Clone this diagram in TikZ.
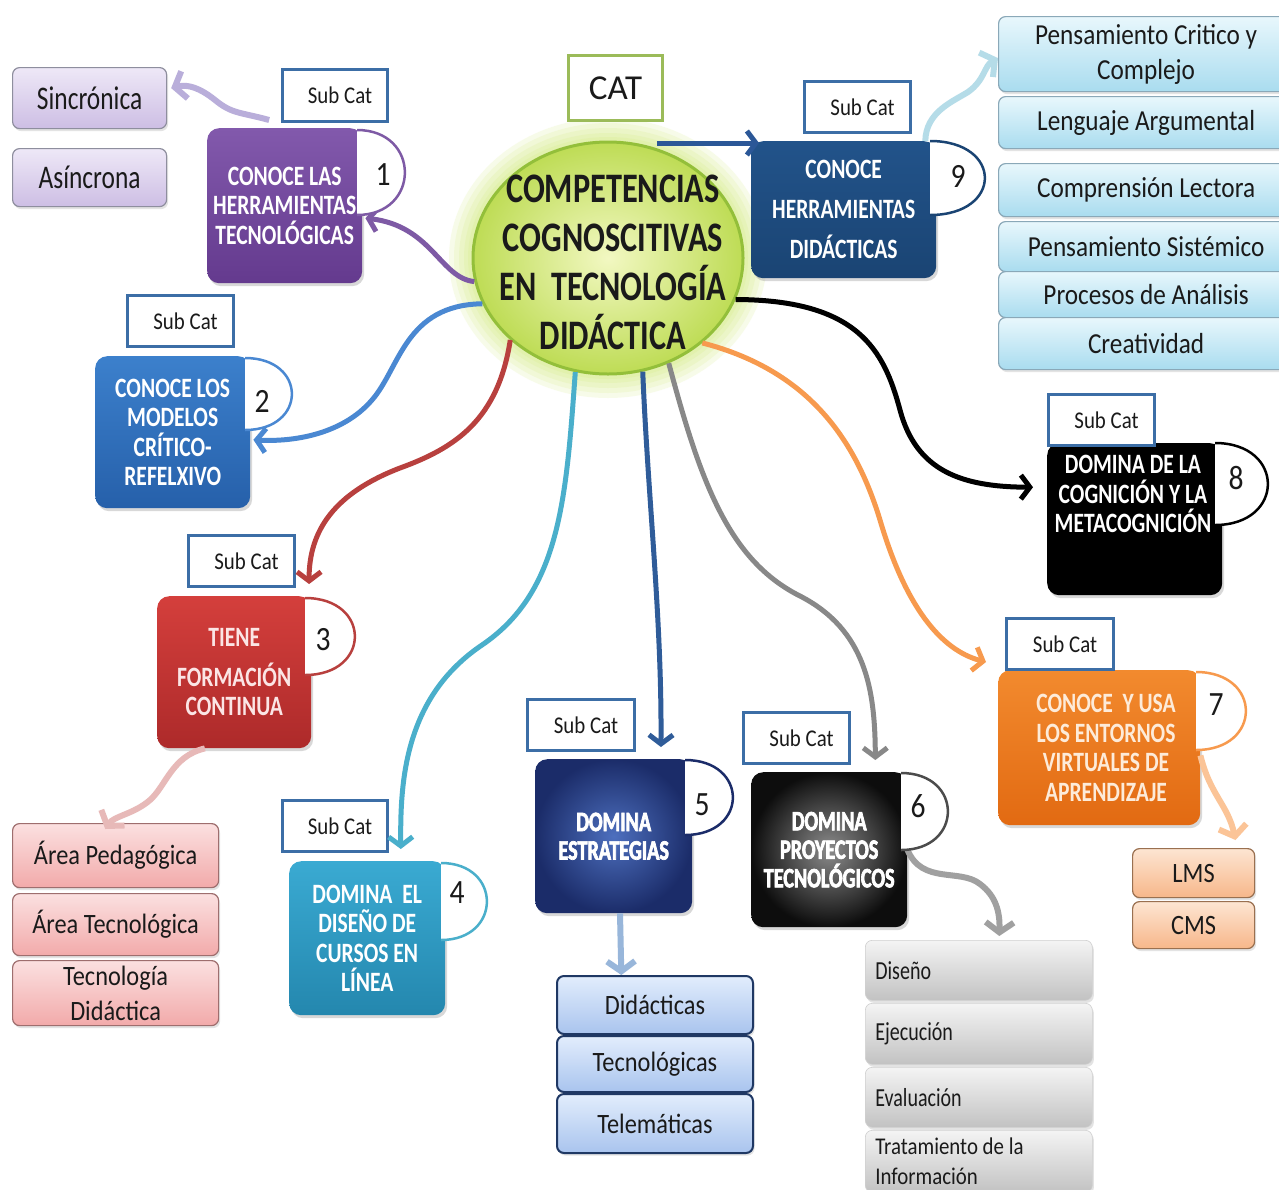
\documentclass[tikz,border=0pt]{standalone}
\usepackage{fontspec}
\setmainfont{Carlito}
\newfontfamily\cnA{Carlito}[FakeStretch=0.77]
\newfontfamily\cnB{Carlito}[FakeStretch=0.87]
\newfontfamily\cnH{Carlito}[FakeStretch=0.72,FakeBold=2.5,BoldFeatures={FakeBold=2.5}]
\usetikzlibrary{shapes.geometric,calc,arrows.meta,shadows}

% category boxes
\definecolor{purpTop}{HTML}{8259AC}\definecolor{purpBot}{HTML}{643A8E}
\definecolor{blueTop}{HTML}{3C80CC}\definecolor{blueBot}{HTML}{2660AA}
\definecolor{redTop}{HTML}{D43F3C}\definecolor{redBot}{HTML}{AD2A2A}
\definecolor{tealTop}{HTML}{3AAAD2}\definecolor{tealBot}{HTML}{2487AE}
\definecolor{navyIn}{HTML}{4D6FBE}\definecolor{navyOut}{HTML}{1B2C69}
\definecolor{greyIn}{HTML}{8C8C8C}\definecolor{greyOut}{HTML}{0D0D0D}
\definecolor{orTop}{HTML}{F28A2E}\definecolor{orBot}{HTML}{E26A12}
\definecolor{dnTop}{HTML}{22538A}\definecolor{dnBot}{HTML}{1A4473}
\definecolor{orText}{HTML}{FDEBD9}\definecolor{redText}{HTML}{FBE5E5}
% frames and text
\definecolor{subblue}{HTML}{3C6EA6}\definecolor{catgreen}{HTML}{9BBB59}
\definecolor{txt}{HTML}{1A1A1A}
% connectors
\definecolor{arPurple}{HTML}{7E5AA5}\definecolor{arLav}{HTML}{B9AEDA}
\definecolor{arBlue}{HTML}{4A88D2}\definecolor{arRed}{HTML}{B8403E}
\definecolor{arTeal}{HTML}{4AAFCB}\definecolor{arNavy}{HTML}{2F5C99}
\definecolor{arGrey}{HTML}{888888}\definecolor{arOrange}{HTML}{F79A4E}
\definecolor{arNavyB}{HTML}{2B5797}\definecolor{arCyan}{HTML}{B5DCE8}
\definecolor{arPink}{HTML}{E7B9B8}\definecolor{arLBlue}{HTML}{98B6DA}
\definecolor{arGreyB}{HTML}{A0A0A0}\definecolor{arPeach}{HTML}{FBC497}
% list items
\definecolor{lavTop}{HTML}{EEE8F7}\definecolor{lavBot}{HTML}{CDBEE4}\definecolor{lavLine}{HTML}{8E8E9E}
\definecolor{pkTop}{HTML}{FBE0E0}\definecolor{pkBot}{HTML}{F2AAAA}\definecolor{pkLine}{HTML}{9E6E6E}
\definecolor{lbTop}{HTML}{E2EDFC}\definecolor{lbBot}{HTML}{A9C4EE}\definecolor{lbLine}{HTML}{1F3864}
\definecolor{gyTop}{HTML}{F4F4F4}\definecolor{gyBot}{HTML}{C2C2C2}\definecolor{gyLine}{HTML}{D0D0D0}
\definecolor{cyTop}{HTML}{E8F7FC}\definecolor{cyBot}{HTML}{A9DCEF}\definecolor{cyLine}{HTML}{8AA8B8}
\definecolor{peTop}{HTML}{FDE5D2}\definecolor{peBot}{HTML}{F7B78A}\definecolor{peLine}{HTML}{9A7050}
% central ellipse
\definecolor{coreIn}{HTML}{F2F8C2}\definecolor{coreOut}{HTML}{BEDC55}
\definecolor{coreRim}{HTML}{93BF3A}\definecolor{glowc}{HTML}{CDE86A}

% white D-shaped number tab on the right of a box
\newcommand\numtab[5]{%
  \fill[white] (#1,#2) .. controls ({#1+1.33*(#3-#1)},#2) and ({#1+1.33*(#3-#1)},#4) .. (#1,#4) -- cycle;
  \draw[#5, line width=2.5pt] (#1,#2) .. controls ({#1+1.33*(#3-#1)},#2) and ({#1+1.33*(#3-#1)},#4) .. (#1,#4);}

\begin{document}
\begin{tikzpicture}[x=1pt,y=-1pt,
  every node/.style={inner sep=0pt},
  catbox/.style={rounded corners=12pt, anchor=north west, align=center, text=white,
    font=\cnA\bfseries\fontsize{28}{29.5}\selectfont,
    drop shadow={shadow xshift=2pt,shadow yshift=-3pt,opacity=0.3}},
  cattext/.style={align=center, text=white, font=\cnA\bfseries\fontsize{28}{29.5}\selectfont},
  heavy/.style={font=\cnH\bfseries\fontsize{28}{28.5}\selectfont},
  subcat/.style={draw=subblue, line width=3pt, fill=white, anchor=north west,
    font=\cnB\fontsize{24}{26}\selectfont, text=txt},
  item/.style={rounded corners=7pt, anchor=north west, align=center, line width=1.2pt,
    font=\cnB\fontsize{28}{35}\selectfont, text=txt,
    drop shadow={shadow xshift=1.5pt,shadow yshift=-2.5pt,opacity=0.22}},
  lav/.style={top color=lavTop, bottom color=lavBot, draw=lavLine},
  pk/.style={top color=pkTop, bottom color=pkBot, draw=pkLine},
  lb/.style={top color=lbTop, bottom color=lbBot, draw=lbLine, line width=2pt},
  gy/.style={top color=gyTop, bottom color=gyBot, draw=gyLine, line width=0.6pt,
    align=left, text width=207pt, inner xsep=10pt, font=\cnA\fontsize{26}{30}\selectfont},
  cy/.style={top color=cyTop, bottom color=cyBot, draw=cyLine},
  pe/.style={top color=peTop, bottom color=peBot, draw=peLine},
  numtxt/.style={font=\cnB\fontsize{34}{34}\selectfont, text=txt},
  con/.style={line width=5pt, -{Straight Barb[length=9pt,width=24pt]}},
  soft/.style={line width=6pt, -{Straight Barb[length=10pt,width=28pt]}},
]
\fill[white] (0,0) rectangle (1279,1189);
\useasboundingbox (0,0) rectangle (1279,1189);

% ---- central concept with its halo
\foreach \g in {24,19,14,9,5}
  \fill[glowc, opacity=0.14] (608,258) ellipse [x radius={(135+\g)*1pt}, y radius={(116+\g)*1pt}];
\node[ellipse, minimum width=270pt, minimum height=232pt, inner color=coreIn, outer color=coreOut,
  draw=coreRim, line width=3pt] (core) at (608,258) {};
\node[align=center, text=txt, font=\cnA\bfseries\fontsize{42}{49}\selectfont] (coretext) at (613,262)
  {COMPETENCIAS\\COGNOSCITIVAS\\EN\ \ TECNOLOGÍA\\DIDÁCTICA};
\node[draw=catgreen, line width=3pt, fill=white, anchor=north west, minimum width=94pt, minimum height=65pt,
  font=\fontsize{35}{36}\selectfont, text=txt] (cat) at (567,54) {CAT};

% ---- category boxes
\node[catbox, top color=purpTop, bottom color=purpBot, minimum width=155pt, minimum height=155pt]
  (b1) at (207,128) {CONOCE LAS\\HERRAMIENTAS\\TECNOLÓGICAS};
\node[catbox, top color=blueTop, bottom color=blueBot, minimum width=155pt, minimum height=152pt]
  (b2) at (95,356) {CONOCE LOS\\MODELOS\\CRÍTICO-\\REFELXIVO};
\node[catbox, top color=redTop, bottom color=redBot, text=redText, minimum width=154pt, minimum height=152pt]
  (b3) at (157,596) {TIENE\\[10pt]FORMACIÓN\\CONTINUA};
\node[catbox, top color=tealTop, bottom color=tealBot, minimum width=156pt, minimum height=154pt]
  (b4) at (289,861) {DOMINA\ \ EL\\DISEÑO DE\\CURSOS EN\\LÍNEA};
\node[catbox, heavy, shading=radial, inner color=navyIn, outer color=navyOut, minimum width=157pt, minimum height=154pt]
  (b5) at (535,759) {DOMINA\\ESTRATEGIAS};
\node[catbox, heavy, shading=radial, inner color=greyIn, outer color=greyOut, minimum width=156pt, minimum height=155pt]
  (b6) at (751,772) {DOMINA\\PROYECTOS\\TECNOLÓGICOS};
\node[catbox, top color=orTop, bottom color=orBot, minimum width=202pt, minimum height=155pt] (b7) at (998,670) {};
\node[cattext, text=orText] (t7) at (1106,748) {CONOCE\ \ Y USA\\LOS ENTORNOS\\VIRTUALES DE\\APRENDIZAJE};
\node[catbox, fill=black, minimum width=175pt, minimum height=152pt] (b8) at (1047,443) {};
\node[cattext] (t8) at (1133,494) {DOMINA DE LA\\COGNICIÓN Y LA\\METACOGNICIÓN};
\node[catbox, top color=dnTop, bottom color=dnBot, minimum width=185pt, minimum height=137pt,
  font=\cnA\bfseries\fontsize{28}{40}\selectfont] (b9) at (751,141) {CONOCE\\HERRAMIENTAS\\DIDÁCTICAS};

% ---- sub category frames
\node[subcat, minimum width=105pt, minimum height=52pt] (s1) at (281,68)  {\hspace*{10pt}Sub Cat};
\node[subcat, minimum width=106pt, minimum height=51pt] (s2) at (126,294) {\hspace*{10pt}Sub Cat};
\node[subcat, minimum width=106pt, minimum height=51pt] (s3) at (187,534) {\hspace*{10pt}Sub Cat};
\node[subcat, minimum width=105pt, minimum height=51pt] (s4) at (281,799) {\hspace*{10pt}Sub Cat};
\node[subcat, minimum width=107pt, minimum height=51pt] (s5) at (526,698) {\hspace*{10pt}Sub Cat};
\node[subcat, minimum width=106pt, minimum height=51pt] (s6) at (742,711) {\hspace*{10pt}Sub Cat};
\node[subcat, minimum width=107pt, minimum height=51pt] (s7) at (1005,617) {\hspace*{10pt}Sub Cat};
\node[subcat, minimum width=106pt, minimum height=51pt] (s8) at (1047,393) {\hspace*{10pt}Sub Cat};
\node[subcat, minimum width=106pt, minimum height=51pt] (s9) at (803,80)  {\hspace*{10pt}Sub Cat};

% ---- lists of sub categories
\node[item, lav, minimum width=154pt, minimum height=61pt, font=\cnA\fontsize{33}{35}\selectfont] (l1) at (12,67) {Sincrónica};
\node[item, lav, minimum width=154pt, minimum height=58pt, font=\cnA\fontsize{33}{35}\selectfont] (l2) at (12,148) {Asíncrona};

\node[item, pk, minimum width=206pt, minimum height=64pt] (a1) at (12,823) {Área Pedagógica};
\node[item, pk, minimum width=206pt, minimum height=62pt] (a2) at (12,893) {Área Tecnológica};
\node[item, pk, minimum width=206pt, minimum height=65pt] (a3) at (12,960) {Tecnología\\Didáctica};

\node[item, lb, minimum width=196pt, minimum height=58pt] (d1) at (556,975)  {Didácticas};
\node[item, lb, minimum width=196pt, minimum height=56pt] (d2) at (556,1035) {Tecnológicas};
\node[item, lb, minimum width=196pt, minimum height=59pt] (d3) at (556,1093) {Telemáticas};

\node[item, gy, minimum height=60pt] (e1) at (865,940)  {Diseño};
\node[item, gy, minimum height=61pt] (e2) at (865,1003) {Ejecución};
\node[item, gy, minimum height=60pt] (e3) at (865,1067) {Evaluación};
\node[item, gy, minimum height=62pt, font=\cnB\fontsize{24}{30}\selectfont] (e4) at (865,1130)
  {\spaceskip=0pt\xspaceskip=0pt Tratamiento de la\\Información};

\node[item, cy, minimum width=295pt, minimum height=75pt, font=\cnB\fontsize{29}{35}\selectfont] (p1) at (998,16)
  {Pensamiento Critico y\\Complejo};
\node[item, cy, minimum width=295pt, minimum height=52pt, font=\cnB\fontsize{29}{35}\selectfont] (p2) at (998,96)  {Lenguaje Argumental};
\node[item, cy, minimum width=295pt, minimum height=53pt, font=\cnB\fontsize{29}{35}\selectfont] (p3) at (998,163) {Comprensión Lectora};
\node[item, cy, minimum width=295pt, minimum height=50pt, font=\cnB\fontsize{29}{35}\selectfont] (p4) at (998,221) {Pensamiento Sistémico};
\node[item, cy, minimum width=295pt, minimum height=46pt, font=\cnB\fontsize{29}{35}\selectfont] (p5) at (998,271) {Procesos de Análisis};
\node[item, cy, minimum width=295pt, minimum height=52pt, font=\cnB\fontsize{29}{35}\selectfont] (p6) at (998,317) {Creatividad};

\node[item, pe, minimum width=122pt, minimum height=49pt, font=\cnB\fontsize{28}{30}\selectfont] (m1) at (1132,848) {LMS};
\node[item, pe, minimum width=122pt, minimum height=47pt, font=\cnB\fontsize{28}{30}\selectfont] (m2) at (1132,901) {CMS};

% ---- connectors from the central concept
\draw[con, draw=arPurple] (core.190) .. controls (440,278) and (432,226) ..
  ($(b1.north east)!0.58!(b1.south east)+(3,0)$);
\draw[con, draw=arBlue] (core.200) .. controls (405,305) and (400,368) .. (372,400)
  .. controls (342,435) and (292,442) .. ($(b2.north east)!0.55!(b2.south east)+(3,0)$);
\draw[con, draw=arRed] (core.220) .. controls (498,420) and (455,448) .. (400,468)
  .. controls (335,493) and (309,530) .. ($(b3.north west)!0.985!(b3.north east)+(0,-12)$);
\draw[con, draw=arTeal] (core.254) .. controls (566,500) and (560,592) .. (482,645)
  .. controls (405,697) and (400,780) .. ($(b4.north west)!0.715!(b4.north east)+(0,-12)$);
\draw[con, draw=arNavy] (core.287) .. controls (648,500) and (662,620) ..
  ($(b5.north west)!0.8!(b5.north east)+(0,-12)$);
\draw[con, draw=arGrey] (core.300) .. controls (700,480) and (728,560) .. (800,596)
  .. controls (866,630) and (875,690) .. ($(b6.north west)!0.795!(b6.north east)+(0,-12)$);
\draw[con, draw=arOrange] (core.318) .. controls (815,372) and (858,448) .. (880,520)
  .. controls (905,605) and (940,650) .. ($(b7.north west)+(-12,-8)$);
\draw[con, draw=black] (core.342) .. controls (858,300) and (884,350) .. (900,410)
  .. controls (916,470) and (960,487) .. ($(b8.north west)!0.29!(b8.south west)+(-14,0)$);
\draw[con, draw=arNavyB] ($(core.66 |- b9.north west)+(0,2)$) -- ($(b9.north west)+(8,2)$);

% ---- connectors from categories to their lists
\draw[soft, draw=arLav] ($(b1.north west)!0.4!(b1.north east)+(0,-8)$) .. controls (240,112) and (232,114) .. (215,100)
  .. controls (200,88) and (188,84) .. ($(l1.east)+(4,-10)$);
\draw[soft, draw=arCyan] ($(b9.north west)!0.94!(b9.north east)$) .. controls (926,112) and (952,102) .. (968,92)
  .. controls (985,80) and (984,66) .. ($(p1.west)+(0,4)$);
\draw[soft, draw=arPink] ($(b3.south west)!0.31!(b3.south east)$) .. controls (172,756) and (166,786) .. (150,800)
  .. controls (134,814) and (114,816) .. ($(a1.north west)!0.45!(a1.north east)+(0,6)$);
\draw[soft, draw=arLBlue] ($(b5.south west)!0.54!(b5.south east)$) -- ($(d1.north west)!0.33!(d1.north east)$);
\draw[soft, draw=arGreyB] ($(b6.north east)!0.5!(b6.south east)$) .. controls (922,885) and (960,868) .. (980,884)
  .. controls (996,896) and (1000,912) .. ($(e1.north west)!0.59!(e1.north east)+(0,-4)$);
\draw[soft, draw=arPeach] ($(b7.north east)!0.55!(b7.south east)$) .. controls (1210,795) and (1228,805) ..
  ($(m1.north west)!0.84!(m1.north east)+(0,-8)$);

% ---- number tabs
\numtab{357}{130}{405}{215}{arPurple}
\numtab{245}{358}{292}{430}{arBlue}
\numtab{305}{598}{355}{675}{arRed}
\numtab{441}{863}{487}{940}{arTeal}
\numtab{685}{760}{733}{835}{navyOut}
\numtab{901}{773}{948}{850}{black!70}
\numtab{1196}{672}{1246}{750}{arOrange}
\numtab{1215}{443}{1268}{525}{black}
\numtab{930}{141}{985}{215}{dnBot}
\node[numtxt] (n1) at (383,175) {1};
\node[numtxt] (n2) at (262,401) {2};
\node[numtxt] (n3) at (323,640) {3};
\node[numtxt] (n4) at (457,893) {4};
\node[numtxt] (n5) at (702,805) {5};
\node[numtxt] (n6) at (918,806) {6};
\node[numtxt] (n7) at (1216,705) {7};
\node[numtxt] (n8) at (1236,478) {8};
\node[numtxt] (n9) at (958,176) {9};
\end{tikzpicture}
\end{document}
